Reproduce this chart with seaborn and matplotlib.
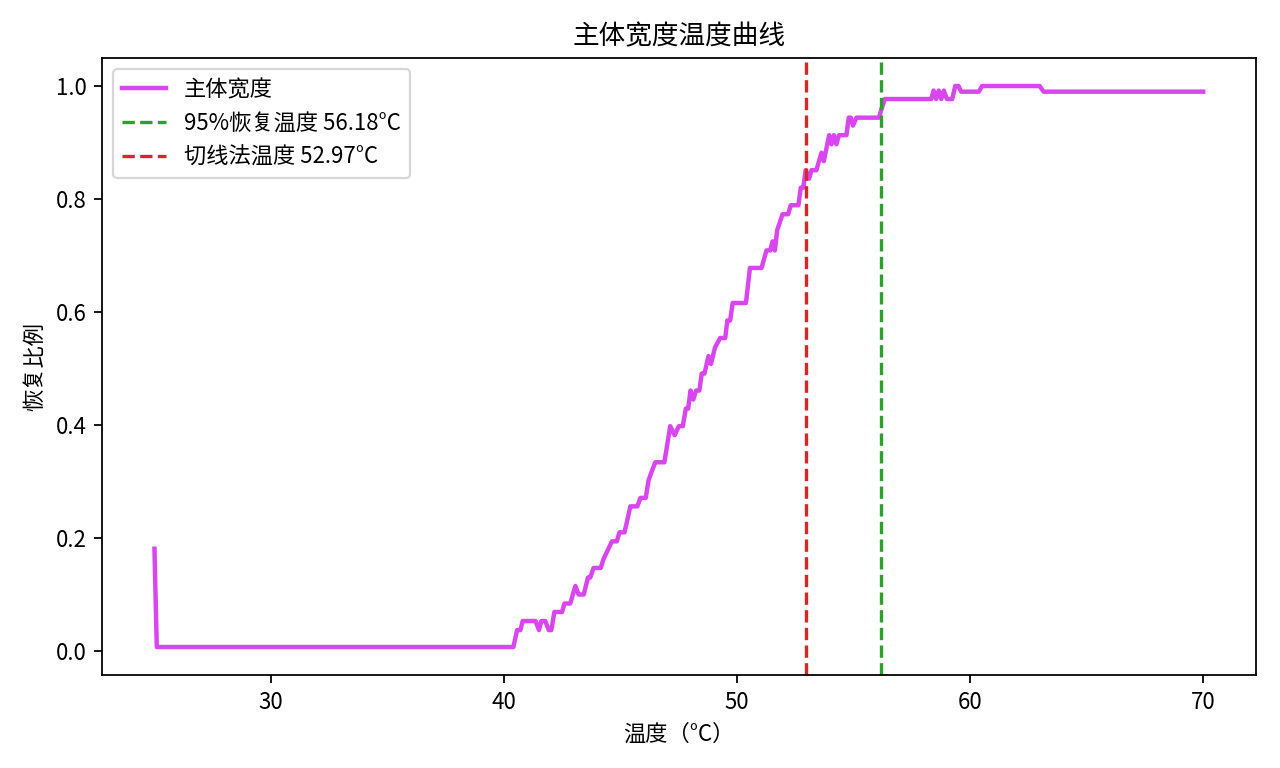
import numpy as np
import pandas as pd
import seaborn as sns
import matplotlib.pyplot as plt

# vertices of the recovery curve
temp = [25.0, 25.1, 40.4, 40.56, 40.7, 40.8, 41.35, 41.5, 41.6, 41.77, 41.92, 42.03,
        42.16, 42.49, 42.59, 42.84, 43.06, 43.2, 43.42, 43.6, 43.7, 43.84, 44.15,
        44.27, 44.63, 44.84, 44.95, 45.17, 45.42, 45.72, 45.85, 46.08, 46.2, 46.34,
        46.49, 46.88, 47.13, 47.32, 47.5, 47.67, 47.8, 47.9, 48.0, 48.12, 48.24,
        48.38, 48.48, 48.6, 48.77, 48.88, 49.05, 49.27, 49.49, 49.58, 49.7, 49.81,
        50.38, 50.55, 51.05, 51.26, 51.42, 51.52, 51.62, 51.72, 51.95, 52.19, 52.3,
        52.63, 52.73, 52.84, 52.94, 53.09, 53.19, 53.4, 53.62, 53.72, 53.95, 54.05,
        54.15, 54.26, 54.37, 54.69, 54.79, 54.88, 54.97, 55.12, 56.09, 56.2, 56.34,
        58.33, 58.43, 58.54, 58.65, 58.76, 58.87, 59.0, 59.23, 59.36, 59.5, 59.61,
        60.37, 60.51, 62.98, 63.15, 70.0]
ratio = [0.181, 0.007, 0.007, 0.037, 0.037, 0.053, 0.053, 0.037, 0.053, 0.053, 0.037, 0.037,
         0.069, 0.069, 0.084, 0.084, 0.115, 0.100, 0.100, 0.130, 0.130, 0.147, 0.147,
         0.163, 0.194, 0.194, 0.210, 0.210, 0.256, 0.256, 0.271, 0.271, 0.302, 0.318,
         0.334, 0.334, 0.398, 0.382, 0.398, 0.398, 0.429, 0.429, 0.461, 0.445, 0.461,
         0.461, 0.491, 0.491, 0.522, 0.508, 0.537, 0.554, 0.554, 0.585, 0.585, 0.616,
         0.616, 0.678, 0.678, 0.709, 0.709, 0.725, 0.709, 0.745, 0.773, 0.773, 0.789,
         0.789, 0.820, 0.820, 0.851, 0.836, 0.851, 0.851, 0.882, 0.867, 0.913, 0.897,
         0.913, 0.897, 0.913, 0.913, 0.944, 0.944, 0.930, 0.944, 0.944, 0.960, 0.977,
         0.977, 0.992, 0.977, 0.992, 0.977, 0.992, 0.977, 0.977, 1.000, 1.000, 0.990,
         0.990, 1.000, 1.000, 0.990, 0.990]

t95 = 56.18
t_tangent = 52.97

df = pd.DataFrame({"temp": temp, "ratio": ratio})

plt.rcParams['font.family'] = ['Noto Sans CJK JP', 'DejaVu Sans']
plt.rcParams['axes.unicode_minus'] = False

fig, ax = plt.subplots(figsize=(8, 4.8), dpi=160)
fig.subplots_adjust(left=0.0797, right=0.981, top=0.9245, bottom=0.121)

sns.lineplot(data=df, x="temp", y="ratio", ax=ax, color="#d946ef", linewidth=2,
             label="主体宽度", sort=False, estimator=None)
ax.axvline(t95, color="tab:green", linestyle="--", linewidth=1.5,
           label=f"95%恢复温度 {t95:.2f}°C")
ax.axvline(t_tangent, color="tab:red", linestyle="--", linewidth=1.5,
           label=f"切线法温度 {t_tangent:.2f}°C")

ax.set_title("主体宽度温度曲线")
ax.set_xlabel("温度（°C）")
ax.set_ylabel("恢复比例")
ax.legend(loc="upper left")

plt.savefig("out.png", dpi=160)
